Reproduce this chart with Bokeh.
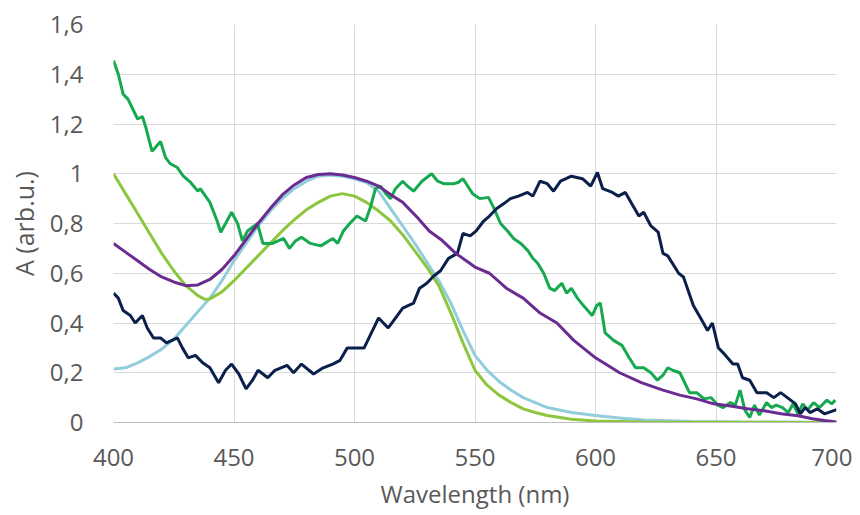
from bokeh.plotting import figure
from bokeh.embed import file_html
from bokeh.resources import INLINE
from bokeh.models import FixedTicker, CustomJSTickFormatter, Range1d, Title

# ---- data ----
blue_x = [400, 405, 410, 415, 420, 425, 430, 435, 440, 445, 450, 455, 460, 465, 470, 475, 480, 485, 490, 495,
          500, 505, 510, 515, 520, 525, 530, 535, 540, 545, 550, 555, 560, 565, 570, 575, 580, 590, 600, 610,
          620, 640, 660, 680, 700]
blue_y = [0.215, 0.22, 0.24, 0.265, 0.295, 0.335, 0.39, 0.445, 0.50, 0.57, 0.65, 0.72, 0.79, 0.85, 0.90, 0.94,
          0.97, 0.99, 0.995, 0.99, 0.98, 0.965, 0.93, 0.86, 0.79, 0.72, 0.645, 0.57, 0.48, 0.37, 0.27, 0.21,
          0.165, 0.13, 0.10, 0.08, 0.06, 0.04, 0.028, 0.018, 0.01, 0.004, 0.002, 0.001, 0.0]

lime_x = [400, 405, 410, 415, 420, 425, 430, 435, 438, 440, 445, 450, 455, 460, 465, 470, 475, 480, 485, 490,
          495, 500, 505, 510, 515, 520, 525, 530, 535, 540, 545, 550, 555, 560, 565, 570, 575, 580, 590, 600,
          620, 650, 700]
lime_y = [1.0, 0.92, 0.84, 0.76, 0.68, 0.61, 0.55, 0.51, 0.495, 0.497, 0.525, 0.57, 0.62, 0.67, 0.72, 0.77,
          0.815, 0.855, 0.885, 0.91, 0.92, 0.91, 0.885, 0.85, 0.81, 0.755, 0.69, 0.625, 0.55, 0.44, 0.32,
          0.21, 0.15, 0.11, 0.08, 0.055, 0.04, 0.028, 0.013, 0.006, 0.002, 0.001, 0.0]

purple_x = [400, 405, 410, 415, 420, 425, 430, 435, 440, 445, 450, 455, 460, 465, 470, 475, 480, 485, 490,
            495, 500, 505, 510, 516, 520, 526, 531, 536, 542, 550, 556, 563, 570, 577, 584, 591, 600, 610, 619,
            628, 635, 642, 649, 656, 663, 670, 677, 684, 690, 695, 700]
purple_y = [0.72, 0.685, 0.65, 0.615, 0.585, 0.565, 0.55, 0.553, 0.575, 0.615, 0.67, 0.735, 0.80, 0.86, 0.915,
            0.955, 0.985, 0.997, 1.0, 0.995, 0.985, 0.97, 0.95, 0.91, 0.885, 0.825, 0.77, 0.735, 0.68, 0.625,
            0.60, 0.54, 0.50, 0.44, 0.40, 0.33, 0.26, 0.20, 0.16, 0.13, 0.11, 0.095, 0.075, 0.066, 0.055, 0.047,
            0.035, 0.027, 0.015, 0.008, 0.002]

navy_x = [400, 402, 404, 407, 409, 412, 414, 416.6, 419.5, 422, 426.5, 428.6, 431, 434, 437, 440, 443.6,
          446.5, 449, 452, 455, 457.7, 460, 464, 467, 472, 474.7, 478, 483, 487, 491, 494, 497, 501.7, 504,
          507, 510, 514, 517, 520, 524.5, 527, 530, 533, 535.7, 539, 542.7, 545, 548, 550.5, 553.6, 556,
          559, 562, 564.7, 568, 571.8, 574, 577, 580, 582.6, 585.5, 590, 594.6, 598, 600.8, 603, 607, 609.5,
          612.4, 615, 618, 620, 623, 626, 628, 630, 634.5, 636.5, 640.6, 643.6, 646.5, 648.5, 651, 653, 657,
          659, 661, 664, 667, 671, 674, 676.8, 679.6, 683, 685, 687, 689, 692, 695, 699.5, 700]
navy_y = [0.52, 0.50, 0.45, 0.43, 0.40, 0.43, 0.38, 0.34, 0.34, 0.32, 0.34, 0.30, 0.26, 0.27, 0.24, 0.22,
          0.16, 0.21, 0.235, 0.195, 0.135, 0.17, 0.21, 0.18, 0.21, 0.23, 0.20, 0.235, 0.195, 0.22, 0.235,
          0.25, 0.30, 0.30, 0.30, 0.36, 0.42, 0.38, 0.42, 0.46, 0.48, 0.54, 0.56, 0.59, 0.61, 0.66, 0.68,
          0.76, 0.75, 0.77, 0.81, 0.83, 0.86, 0.88, 0.90, 0.91, 0.925, 0.91, 0.97, 0.96, 0.93, 0.97, 0.99,
          0.98, 0.95, 1.005, 0.94, 0.925, 0.91, 0.925, 0.88, 0.83, 0.845, 0.79, 0.765, 0.68, 0.67, 0.60,
          0.585, 0.47, 0.42, 0.37, 0.40, 0.30, 0.28, 0.235, 0.235, 0.18, 0.17, 0.12, 0.12, 0.10, 0.12, 0.10,
          0.075, 0.035, 0.06, 0.04, 0.055, 0.035, 0.05, 0.05]

green_x = [400, 402, 404, 406, 410, 412, 413.3, 416, 419.5, 421.6, 423.6, 426.5, 429, 432, 435, 436, 440,
           443, 444.5, 446.5, 449, 451.5, 453.5, 455.6, 459.7, 462, 466, 470.6, 473, 475.5, 478, 481.7, 486,
           491, 493, 495.4, 498, 501, 504.6, 506.6, 508.7, 510.8, 513, 515, 517, 520, 522, 524.5, 528, 532,
           534.5, 537, 541, 543, 545, 549, 552, 555.6, 557.7, 560.6, 563.5, 566, 569, 572, 574, 576, 578.5,
           581, 583, 586, 588, 590, 592.5, 595, 598.6, 600.5, 602, 604, 607.5, 611, 614, 616.6, 620, 623,
           625.7, 628, 630, 632, 635, 639, 642, 645, 648, 650.6, 653, 656, 658, 660, 662, 664, 666, 668, 671,
           673, 675, 677.6, 680, 682, 684, 686, 688, 690.5, 693, 696, 698, 699.5]
green_y = [1.455, 1.40, 1.32, 1.30, 1.22, 1.23, 1.19, 1.09, 1.13, 1.065, 1.04, 1.025, 0.99, 0.965, 0.93, 0.94,
           0.885, 0.81, 0.765, 0.80, 0.845, 0.80, 0.73, 0.77, 0.80, 0.72, 0.72, 0.74, 0.70, 0.73, 0.745, 0.72,
           0.71, 0.74, 0.72, 0.77, 0.80, 0.83, 0.81, 0.865, 0.94, 0.95, 0.92, 0.90, 0.94, 0.97, 0.95, 0.93,
           0.97, 1.00, 0.97, 0.96, 0.96, 0.965, 0.98, 0.92, 0.90, 0.905, 0.865, 0.80, 0.77, 0.74, 0.72, 0.69,
           0.66, 0.64, 0.60, 0.54, 0.53, 0.56, 0.52, 0.54, 0.50, 0.47, 0.43, 0.47, 0.48, 0.36, 0.33, 0.31,
           0.26, 0.22, 0.22, 0.20, 0.17, 0.19, 0.22, 0.21, 0.20, 0.12, 0.12, 0.095, 0.10, 0.07, 0.06, 0.08,
           0.07, 0.13, 0.05, 0.02, 0.07, 0.03, 0.08, 0.06, 0.07, 0.06, 0.04, 0.075, 0.035, 0.075, 0.05, 0.08,
           0.06, 0.09, 0.075, 0.09]

x_ticks = [400, 450, 500, 550, 600, 650, 700]
y_ticks = [0, 0.2, 0.4, 0.6, 0.8, 1.0, 1.2, 1.4, 1.6]
x_title = "Wavelength (nm)"
y_title = "A (arb.u.)"

# ---- figure ----
p = figure(frame_width=723, frame_height=398, output_backend="svg", toolbar_location=None,
           x_range=Range1d(400, 700), y_range=Range1d(0, 1.6),
           min_border_left=113, min_border_right=16, min_border_top=24, min_border_bottom=10)
p.outline_line_color = None
p.background_fill_color = "white"

FONT = "Open Sans"
TXT = "#595959"

p.xaxis.ticker = FixedTicker(ticks=x_ticks)
p.yaxis.ticker = FixedTicker(ticks=y_ticks)
p.yaxis.formatter = CustomJSTickFormatter(
    code="var s = tick.toFixed(1); if (s.endsWith('.0')) { s = s.slice(0, -2); } return s.replace('.', ',');")

for ax in (p.xaxis[0], p.yaxis[0]):
    ax.major_tick_line_color = None
    ax.minor_tick_line_color = None
    ax.major_label_text_font = FONT
    ax.major_label_text_color = TXT
    ax.major_label_text_font_size = "24px"
    ax.axis_label_text_font = FONT
    ax.axis_label_text_color = TXT
    ax.axis_label_text_font_size = "25px"
    ax.axis_label_text_font_style = "normal"

p.xaxis.axis_line_color = "#bfbfbf"
p.yaxis.axis_line_color = None
p.xaxis.major_label_standoff = 20
p.yaxis.major_label_standoff = 24
p.yaxis.axis_label = y_title
p.yaxis.axis_label_standoff = 6

# x-axis title as a "below" title, centred on the plot area
p.add_layout(Title(text=x_title, align="center", text_font=FONT, text_font_size="24px",
                   text_font_style="normal", text_color=TXT, standoff=12), "below")

p.xgrid.grid_line_color = "#d9d9d9"
p.ygrid.grid_line_color = "#d9d9d9"

LW = 3
p.line(blue_x, blue_y, line_color="#92cddc", line_width=LW)
p.line(lime_x, lime_y, line_color="#8dc63f", line_width=LW)
p.line(green_x, green_y, line_color="#16a94f", line_width=LW)
p.line(navy_x, navy_y, line_color="#0b1f4b", line_width=LW)
p.line(purple_x, purple_y, line_color="#6b2c91", line_width=LW)

open("out.html", "w").write(file_html(p, INLINE))
